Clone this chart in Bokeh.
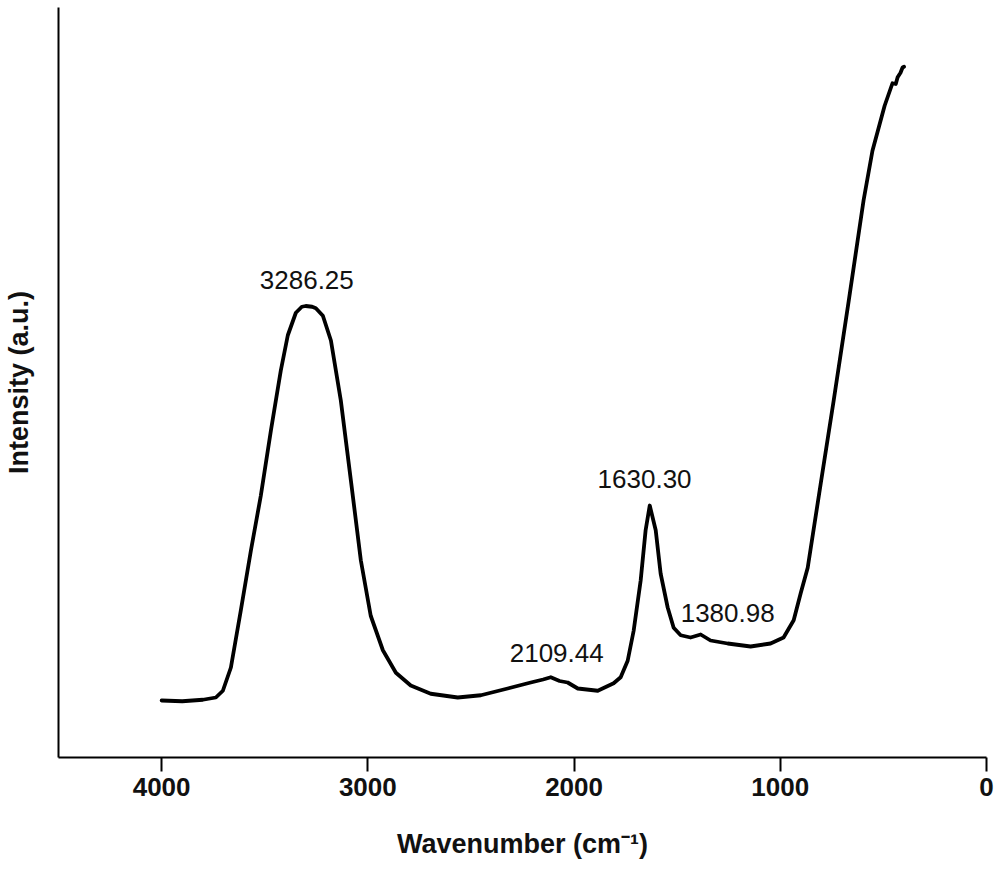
from bokeh.plotting import figure
from bokeh.models import Range1d, FixedTicker
from bokeh.core.properties import value
from bokeh.embed import file_html
from bokeh.resources import INLINE

# FTIR spectrum
wavenumber = [4000, 3900, 3800, 3737, 3703, 3664, 3616, 3567, 3519, 3470, 3422,
              3388, 3349, 3320, 3301, 3270, 3252, 3218, 3179, 3131, 3082, 3034,
              2986, 2927, 2864, 2792, 2695, 2564, 2452, 2322, 2210, 2150, 2113,
              2070, 2031, 1982, 1885, 1808, 1774, 1740, 1711, 1677, 1653, 1633,
              1604, 1580, 1546, 1517, 1483, 1435, 1386, 1338, 1255, 1144, 1047,
              984, 935, 901, 867, 804, 741, 668, 596, 553, 494, 456, 440, 431,
              417, 407, 400]
intensity = [7.6, 7.5, 7.7, 8.0, 8.9, 12.0, 19.6, 27.6, 34.9, 43.6, 51.6,
             56.3, 59.3, 60.1, 60.2, 60.1, 59.9, 58.9, 55.6, 47.6, 36.9, 26.3,
             18.9, 14.3, 11.3, 9.6, 8.5, 8.0, 8.3, 9.2, 10.0, 10.4, 10.7,
             10.2, 10.0, 9.2, 8.9, 9.9, 10.7, 12.9, 16.9, 23.6, 30.3, 33.6,
             30.3, 24.5, 20.0, 17.3, 16.3, 16.0, 16.4, 15.6, 15.2, 14.8, 15.2,
             16.0, 18.3, 21.9, 25.3, 36.5, 47.6, 60.9, 74.3, 80.9, 86.9, 89.9,
             89.8, 90.7, 91.3, 92.0, 92.1]

# Peak annotations
peak_labels = ["3286.25", "2109.44", "1630.30", "1380.98"]
peak_label_x = [3296, 2084, 1658, 1255]
peak_label_y = [63.7, 13.9, 37.1, 19.3]

x_ticks = [4000, 3000, 2000, 1000, 0]

p = figure(width=995, height=868,
           x_range=Range1d(4500, 0), y_range=Range1d(0, 100),
           output_backend="svg", toolbar_location=None,
           min_border_left=57, min_border_right=9,
           min_border_top=7, min_border_bottom=111)

p.line(wavenumber, intensity, line_color="black", line_width=3.8,
       line_join="round", line_cap="round")

p.text(x=peak_label_x, y=peak_label_y, text=peak_labels,
       text_font=value("Liberation Sans"), text_font_size="26px",
       text_align="center", text_baseline="middle", text_color="#111111")

p.grid.visible = False
p.outline_line_color = None
p.background_fill_color = "white"
p.border_fill_color = "white"

xa = p.xaxis[0]
xa.ticker = FixedTicker(ticks=x_ticks)
xa.minor_tick_line_color = None
xa.major_tick_in = 0
xa.major_tick_out = 14
xa.axis_line_width = 2
xa.major_tick_line_width = 2
xa.axis_line_color = "black"
xa.major_tick_line_color = "black"
xa.major_label_text_font = "Liberation Sans"
xa.major_label_text_font_style = "bold"
xa.major_label_text_font_size = "26px"
xa.major_label_text_color = "#111111"
xa.major_label_standoff = 6
xa.axis_label = "Wavenumber (cm\u207b\u00b9)"
xa.axis_label_text_font = "Liberation Sans"
xa.axis_label_text_font_style = "bold"
xa.axis_label_text_font_size = "27px"
xa.axis_label_text_color = "#111111"
xa.axis_label_standoff = 30

ya = p.yaxis[0]
ya.ticker = FixedTicker(ticks=[])
ya.minor_tick_line_color = None
ya.major_tick_in = 0
ya.major_tick_out = 0
ya.axis_line_width = 2
ya.axis_line_color = "black"
ya.axis_label = "Intensity (a.u.)"
ya.axis_label_text_font = "Liberation Sans"
ya.axis_label_text_font_style = "bold"
ya.axis_label_text_font_size = "27px"
ya.axis_label_text_color = "#111111"
ya.axis_label_standoff = 25

open("out.html", "w").write(file_html(p, INLINE))
